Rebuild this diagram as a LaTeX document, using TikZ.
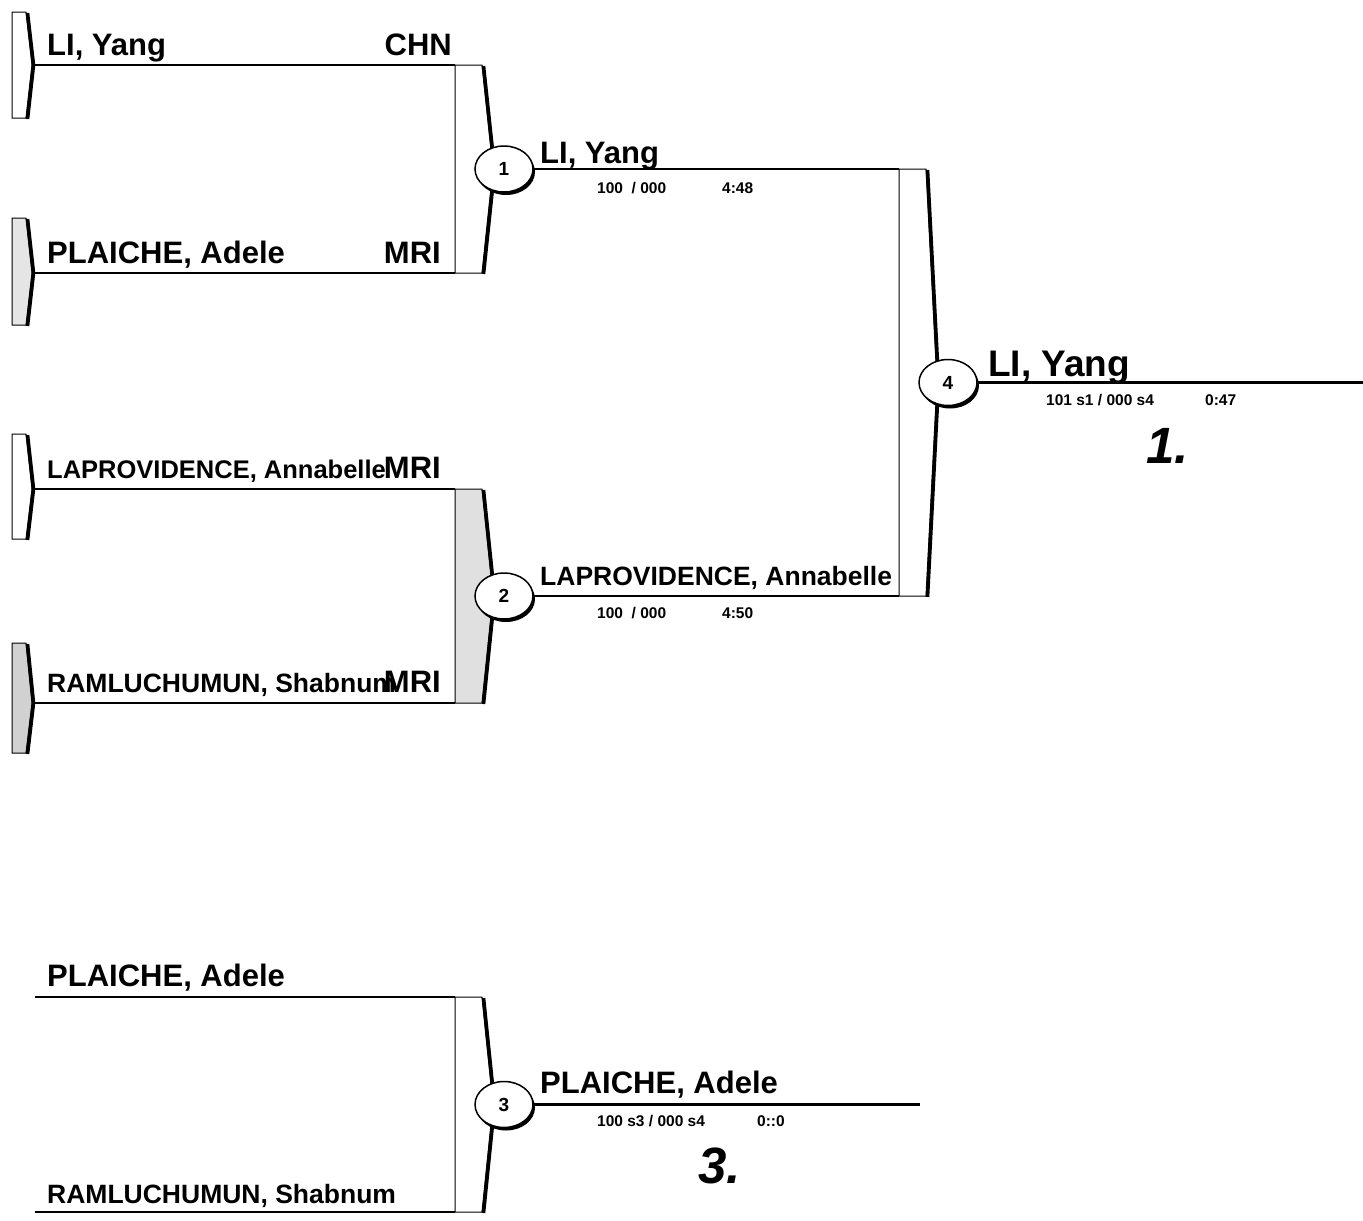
\documentclass[tikz,border=0pt]{standalone}
\usepackage{fontspec}
\setmainfont{Liberation Sans}
\usetikzlibrary{shapes.geometric,shadows}

\begin{document}
\begin{tikzpicture}[x=1pt, y=-1pt,
    wire/.style={line width=2.6pt},
    rim/.style={draw, line width=1pt},
    rimedge/.style={line width=3.6pt, line join=round},
    seed/.style={ellipse, draw, line width=1.5pt, fill=white, minimum width=58pt, minimum height=46pt, inner sep=0pt,
        font=\bfseries\fontsize{19}{19}\selectfont,
        drop shadow={shadow xshift=2pt, shadow yshift=-3pt, fill=black, opacity=1}},
    fencer/.style={anchor=base west, inner sep=0pt, font=\bfseries\fontsize{31}{31}\selectfont},
    fencersm/.style={fencer, font=\bfseries\fontsize{25.5}{25.5}\selectfont},
    nation/.style={anchor=base east, inner sep=0pt, font=\bfseries\fontsize{31}{31}\selectfont},
    score/.style={anchor=base west, inner sep=0pt, font=\bfseries\fontsize{15.5}{15.5}\selectfont},
    place/.style={anchor=base west, inner sep=0pt, font=\bfseries\itshape\fontsize{51}{51}\selectfont}]
    \useasboundingbox (0,0) rectangle (1363,1221);

    % Entry tabs on the left
    \foreach \n/\t/\b/\m/\c in {1/12/118/65/white, 2/218/325/273/black!10, 3/434/539/489/white, 4/643/753/703/black!18} {
        \draw[rim, fill=\c] (12,\t) -- (26,\t) -- (32,\m) -- (26,\b) -- (12,\b) -- cycle;
        \draw[rimedge] (27.5,\t+1) -- (33.5,\m) -- (27.5,\b+1);
        \coordinate (tip\n) at (33,\m);
    }
    \coordinate (tip5) at (35,997);
    \coordinate (tip6) at (35,1212);

    % Bouts
    \foreach \n/\x/\t/\b/\c in {1/455/65/273/white, 2/455/489/703/black!12, 3/455/997/1212/white, 4/899/169/596/white} {
        \pgfmathsetmacro\mid{(\t+\b)/2}
        \draw[rim, fill=\c] (\x,\t) -- (\x+27,\t) -- (\x+38,\mid) -- (\x+27,\b) -- (\x,\b) -- cycle;
        \draw[rimedge] (\x+28.5,\t+1) -- (\x+39.5,\mid) -- (\x+28.5,\b+1);
        \coordinate (b\n a) at (\x,\t);
        \coordinate (b\n b) at (\x,\b);
        \node[seed] (s\n) at (\x+49,\mid) {\n};
    }
    \coordinate (fin) at (1363,382.5);
    \coordinate (third) at (920,1104.5);

    % Wires
    \draw[wire] (tip1) -- (b1a);
    \draw[wire] (tip2) -- (b1b);
    \draw[wire] (tip3) -- (b2a);
    \draw[wire] (tip4) -- (b2b);
    \draw[wire] (tip5) -- (b3a);
    \draw[wire] (tip6) -- (b3b);
    \draw[wire] (s1.east) -- (b4a);
    \draw[wire] (s2.east) -- (b4b);
    \draw[wire] (s4.east) -- (fin);
    \draw[wire] (s3.east) -- (third);

    % Entries
    \node[fencer] (n1) at (47,55) {LI, Yang};
    \node[nation] (c1) at (452,55) {CHN};
    \node[fencer] (n2) at (47,263) {PLAICHE, Adele};
    \node[nation] (c2) at (441,263) {MRI};
    \node[fencersm] (n3) at (47,478) {LAPROVIDENCE, Annabelle};
    \node[nation] (c3) at (441,478) {MRI};
    \node[fencersm, font=\bfseries\fontsize{26.5}{26.5}\selectfont] (n4) at (47,692) {RAMLUCHUMUN, Shabnum};
    \node[nation] (c4) at (441,692) {MRI};
    \node[fencer] (n5) at (47,986) {PLAICHE, Adele};
    \node[fencersm, font=\bfseries\fontsize{26.5}{26.5}\selectfont] (n6) at (47,1203) {RAMLUCHUMUN, Shabnum};

    % Winners
    \node[fencer] (w1) at (540,163) {LI, Yang};
    \node[score] (r1) at (597,193) {100~~/ 000};
    \node[score] (t1) at (722,193) {4:48};
    \node[fencersm, font=\bfseries\fontsize{26.5}{26.5}\selectfont] (w2) at (540,585) {LAPROVIDENCE, Annabelle};
    \node[score] (r2) at (597,618) {100~~/ 000};
    \node[score] (t2) at (722,618) {4:50};
    \node[fencer, font=\bfseries\fontsize{37}{37}\selectfont] (w4) at (988,376) {LI, Yang};
    \node[score] (r4) at (1046,405) {101 s1 / 000 s4};
    \node[score] (t4) at (1205,405) {0:47};
    \node[place] (p1) at (1146,463) {1.};
    \node[fencer] (w3) at (540,1093) {PLAICHE, Adele};
    \node[score] (r3) at (597,1126) {100 s3 / 000 s4};
    \node[score] (t3) at (757,1126) {0::0};
    \node[place] (p3) at (698,1183) {3.};
\end{tikzpicture}
\end{document}
